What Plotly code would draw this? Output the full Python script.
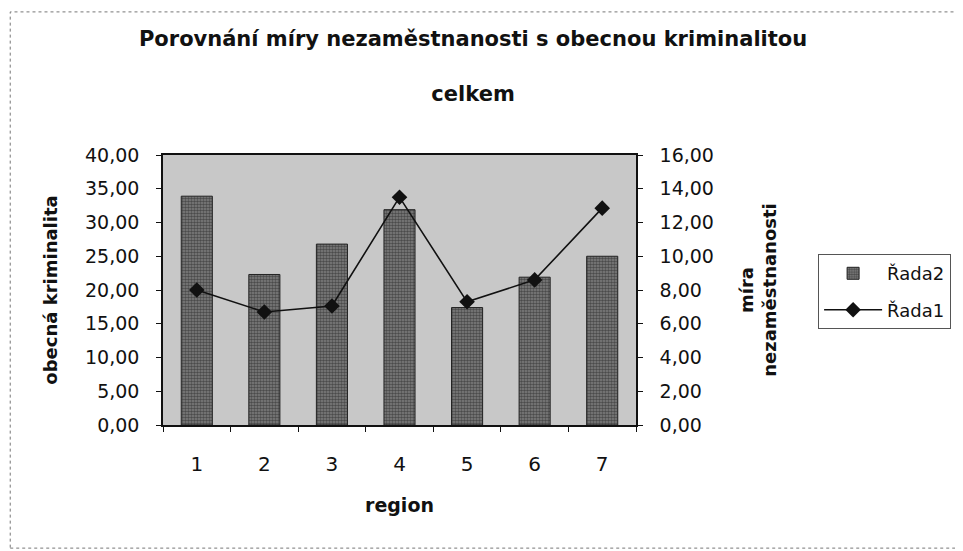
import plotly.graph_objects as go

regions = ["1", "2", "3", "4", "5", "6", "7"]
kriminalita = [33.9, 22.3, 26.8, 31.9, 17.4, 21.9, 25.0]      # Řada2, left axis
nezamestnanost = [8.0, 6.7, 7.05, 13.5, 7.3, 8.6, 12.85]     # Řada1, right axis

left_ticks = [0, 5, 10, 15, 20, 25, 30, 35, 40]
right_ticks = [0, 2, 4, 6, 8, 10, 12, 14, 16]

FONT = "DejaVu Sans, Liberation Sans, Arial, sans-serif"
INK = "#111111"

fig = go.Figure()

fig.add_trace(
    go.Bar(
        x=regions,
        y=kriminalita,
        name="Řada2",
        legendgroup="r2",
        width=0.46,
        marker={
            "color": "#666666",
            "line": {"color": "#222222", "width": 1},
            "pattern": {
                "shape": ".",
                "fgcolor": "#151515",
                "bgcolor": "#808080",
                "size": 3,
                "solidity": 0.55,
            },
        },
        yaxis="y",
    )
)

fig.add_trace(
    go.Scatter(
        x=regions,
        y=nezamestnanost,
        name="Řada1",
        legendgroup="r1",
        mode="lines+markers",
        line={"color": INK, "width": 1.6},
        marker={"symbol": "diamond", "size": 12, "color": INK},
        yaxis="y2",
    )
)

axis_common = {
    "ticks": "outside",
    "ticklen": 5,
    "tickcolor": INK,
    "showline": True,
    "linecolor": INK,
    "linewidth": 1.5,
    "showgrid": False,
    "zeroline": False,
}

# the page body adds an 8px offset, so the figure is sized 8px short
fig.update_layout(
    width=955,
    height=543,
    margin={"l": 155, "r": 320, "t": 147, "b": 126},
    paper_bgcolor="#ffffff",
    plot_bgcolor="#c8c8c8",
    separators=", ",
    font={"family": FONT, "color": INK, "size": 19},
    title={
        "text": "Porovnání míry nezaměstnanosti s obecnou kriminalitou<br><br>celkem",
        "x": 0.487,
        "xanchor": "center",
        "yref": "container",
        "y": 0.930,
        "yanchor": "middle",
        "font": {"size": 21, "family": FONT, "weight": "bold"},
    },
    xaxis={
        **axis_common,
        "type": "category",
        "tickson": "boundaries",
        "mirror": True,
        "ticklabelstandoff": 20,
        "tickfont": {"size": 20},
        "title": {"text": "region", "font": {"size": 19, "weight": "bold"}, "standoff": 24},
    },
    yaxis={
        **axis_common,
        "range": [0, 40],
        "tickvals": left_ticks,
        "tickformat": ".2f",
        "ticklabelstandoff": 13,
        "tickfont": {"size": 19},
        "title": {"text": "obecná kriminalita", "font": {"size": 18, "weight": "bold"}, "standoff": 23},
    },
    yaxis2={
        **axis_common,
        "range": [0, 16],
        "tickvals": right_ticks,
        "tickformat": ".2f",
        "overlaying": "y",
        "side": "right",
        "ticklabelstandoff": 13,
        "tickfont": {"size": 19},
        "title": {"text": "míra<br>nezaměstnanosti", "font": {"size": 18, "weight": "bold"}, "standoff": 27},
    },
    legend={
        "x": 1.385,
        "y": 0.633,
        "xanchor": "left",
        "yanchor": "top",
        "bgcolor": "#ffffff",
        "bordercolor": "#555555",
        "borderwidth": 1,
        "font": {"size": 18},
        "traceorder": "grouped",
        "tracegroupgap": 10,
        "itemwidth": 58,
    },
    showlegend=True,
)

# outer chart-area frame (dotted, like the scanned original)
fig.add_shape(
    type="rect",
    xref="paper",
    yref="paper",
    x0=-0.323,
    x1=1.75,
    y0=-0.456,
    y1=1.53,
    line={"color": "#777777", "width": 1, "dash": "dot"},
    layer="below",
)

fig.write_html("out.html")
